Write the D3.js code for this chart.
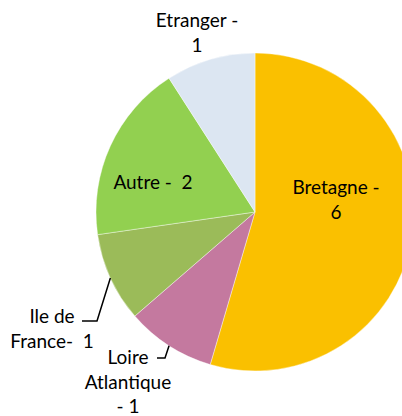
<!DOCTYPE html>
<html>
<head>
<meta charset="utf-8">
<script src="https://cdn.jsdelivr.net/npm/d3@7"></script>
<style>
  body { margin: 0; background: #fff; }
  text { font-family: Lato, "Open Sans", sans-serif; font-size: 19px; fill: #000; white-space: pre; }
</style>
</head>
<body>
<svg width="402" height="416"></svg>
<script>
// Données
const categories = ["Bretagne", "Loire Atlantique", "Ile de France", "Autre", "Etranger"];
const values = [6, 1, 1, 2, 1];
const colors = ["#FAC000", "#C4799F", "#9BBB59", "#92D050", "#DCE6F2"];

const svg = d3.select("svg");
const cx = 255, cy = 212, r = 159;

const pie = d3.pie().sort(null).value(d => d.v);
const arcs = pie(categories.map((c, i) => ({ c, v: values[i], col: colors[i] })));
const arc = d3.arc().innerRadius(0).outerRadius(r);

const g = svg.append("g").attr("transform", `translate(${cx},${cy})`);

g.selectAll("path")
  .data(arcs)
  .enter()
  .append("path")
  .attr("d", arc)
  .attr("fill", d => d.data.col)
  .attr("stroke", "#fff")
  .attr("stroke-width", 0.4);

// étiquettes (position relative au centre)
const labelPos = {
  "Bretagne": { x: 81, y: -18, lines: ["Bretagne -", "6"] },
  "Loire Atlantique": { x: -127, y: 152, lines: ["Loire", "Atlantique", "- 1"] },
  "Ile de France": { x: -203, y: 111, lines: ["Ile de", "France-  1"] },
  "Autre": { x: -102, y: -23, lines: ["Autre -  2"] },
  "Etranger": { x: -58, y: -185, lines: ["Etranger -", "1"] }
};

arcs.forEach(a => {
  const p = labelPos[a.data.c];
  const t = g.append("text")
    .attr("text-anchor", "middle")
    .attr("transform", `translate(${p.x},${p.y})`);
  p.lines.forEach((l, i) => {
    t.append("tspan")
      .attr("x", 0)
      .attr("y", i * 24.5)
      .text(l);
  });
});

// lignes de rappel
const leaders = {
  "Ile de France": [[-158, 109], [-173, 109]],
  "Loire Atlantique": [[-90, 146], [-98, 146]]
};
arcs.forEach(a => {
  const pts = leaders[a.data.c];
  if (!pts) return;
  const m = (a.startAngle + a.endAngle) / 2;
  const start = [r * Math.sin(m), -r * Math.cos(m)];
  g.append("path")
    .attr("d", d3.line()([start, ...pts]))
    .attr("fill", "none")
    .attr("stroke", "#000")
    .attr("stroke-width", 1.5);
});
</script>
</body>
</html>
